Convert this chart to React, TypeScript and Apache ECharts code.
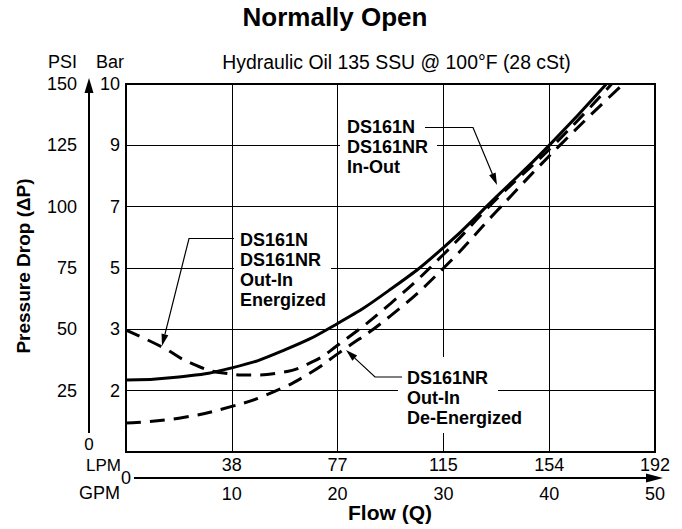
import React, { useEffect, useRef } from "react";
import * as echarts from "echarts";

// ---- Axis ticks & labels ----
const gpmTicks = [0, 10, 20, 30, 40, 50];
const gpmLabels = ["", "10", "20", "30", "40", "50"];
const lpmLabels = ["", "38", "77", "115", "154", "192"];
const psiTicks = [0, 25, 50, 75, 100, 125, 150];
const psiLabels = ["", "25", "50", "75", "100", "125", "150"];
const barLabels = ["", "2", "3", "5", "7", "9", "10"];

// ---- Series: In-Out (solid) ----
const inOutFlow = [0, 5, 10, 15, 20, 25, 30, 35, 40, 45.4];
const inOutPsi = [29.3, 30.6, 34.3, 41.6, 52.4, 66.3, 83.3, 104, 125, 150];

// ---- Series: Out-In Energized (dashed) ----
const energizedFlow = [0, 3.4, 6.1, 9.2, 11.9, 14.5, 17.5, 20, 25, 30, 35, 40.4, 45.9];
const energizedPsi = [49.7, 42.8, 36.3, 32.2, 31.4, 32.3, 36.5, 43.5, 60.5, 80.5, 103, 125, 150];

// ---- Series: Out-In De-Energized (dashed) ----
const deEnergizedFlow = [0, 5, 10, 14, 17.4, 20, 25, 30, 35, 41, 47];
const deEnergizedPsi = [11.8, 13.8, 18.6, 24.6, 32.2, 40, 55.5, 74.9, 98, 125, 150];

const FONT = '"Liberation Sans", Arial, Helvetica, sans-serif';

const zip = (xs: number[], ys: number[]) => xs.map((x, i) => [x, ys[i]]);
const pick = (ticks: number[], labels: string[]) => (v: number) => {
  const i = ticks.indexOf(Math.round(v * 1000) / 1000);
  return i >= 0 ? labels[i] : "";
};

function text(x: number, y: number, t: string, o: any = {}) {
  const align = o.align || "center";
  const valign = o.valign || "middle";
  return {
    type: "text",
    x,
    y,
    rotation: o.rotation || 0,
    z: 10,
    silent: true,
    style: {
      text: t,
      fill: "#000",
      font: `${o.bold ? "bold " : ""}${o.size || 18}px ${FONT}`,
      align,
      verticalAlign: valign,
      textAlign: align,
      textVerticalAlign: valign,
      lineHeight: o.lineHeight,
    },
  };
}

function arrowHead(tip: number[], from: number[], len: number, half: number) {
  const dx = tip[0] - from[0];
  const dy = tip[1] - from[1];
  const d = Math.sqrt(dx * dx + dy * dy) || 1;
  const ux = dx / d, uy = dy / d;
  const bx = tip[0] - ux * len, by = tip[1] - uy * len;
  const nx = -uy, ny = ux;
  return {
    base: [bx, by],
    el: {
      type: "polygon",
      z: 10,
      silent: true,
      shape: { points: [tip, [bx + nx * half, by + ny * half], [bx - nx * half, by - ny * half]] },
      style: { fill: "#000" },
    },
  };
}

function leader(points: number[][], len = 12, half = 3.5) {
  const tip = points[points.length - 1];
  const prev = points[points.length - 2];
  const a = arrowHead(tip, prev, len, half);
  const pts = points.slice(0, -1).concat([a.base]);
  return [
    { type: "polyline", z: 10, silent: true, shape: { points: pts }, style: { stroke: "#000", lineWidth: 1.2, fill: null } },
    a.el,
  ];
}

function box(x: number, y: number, w: number, h: number) {
  return { type: "rect", z: 1, silent: true, shape: { x, y, width: w, height: h }, style: { fill: "#fff" } };
}

export default function App() {
  const ref = useRef<HTMLDivElement>(null);

  useEffect(() => {
    if (!ref.current) return;
    const chart = echarts.init(ref.current, undefined, { renderer: "svg" });

    const vArrow = arrowHead([89, 78], [89, 433], 15, 4.5);
    const hArrow = arrowHead([663, 478], [134, 478], 17, 4.5);

    const graphic: any[] = [
      // white label backgrounds
      box(234, 228, 97, 84),
      box(340, 116, 97, 62),
      box(398, 357, 100, 76),
      // titles
      text(335, 17, "Normally Open", { bold: true, size: 26 }),
      text(396.5, 62, "Hydraulic Oil 135 SSU @ 100°F (28 cSt)", { size: 19.4 }),
      text(23, 266, "Pressure Drop (ΔP)", { bold: true, size: 19, rotation: Math.PI / 2 }),
      text(390, 512, "Flow (Q)", { bold: true, size: 21 }),
      // axis unit labels
      text(62.5, 62, "PSI"),
      text(110, 62, "Bar"),
      text(89, 444, "0", { size: 17 }),
      text(121, 465, "LPM", { align: "right", size: 17 }),
      text(126, 478, "0"),
      text(120, 493, "GPM", { align: "right" }),
      // axis arrows
      { type: "line", z: 10, silent: true, shape: { x1: 89, y1: 433, x2: vArrow.base[0], y2: vArrow.base[1] }, style: { stroke: "#000", lineWidth: 2 } },
      vArrow.el,
      { type: "line", z: 10, silent: true, shape: { x1: 134, y1: 478, x2: hArrow.base[0], y2: hArrow.base[1] }, style: { stroke: "#000", lineWidth: 2 } },
      hArrow.el,
      // curve labels
      text(240, 230, "DS161N\nDS161NR\nOut-In\nEnergized", { bold: true, align: "left", valign: "top", lineHeight: 20 }),
      text(347, 117, "DS161N\nDS161NR\nIn-Out", { bold: true, align: "left", valign: "top", lineHeight: 20 }),
      text(407, 368, "DS161NR\nOut-In\nDe-Energized", { bold: true, align: "left", valign: "top", lineHeight: 20 }),
      ...leader([[234, 238.5], [189, 238.5], [162, 346]]),
      ...leader([[425, 127.5], [473, 127.5], [497, 185]]),
      ...leader([[402, 377], [375, 377], [346, 350]]),
    ];

    const lineBase = { type: "line", showSymbol: false, symbol: "none", smooth: 0.5, z: 2 };

    chart.setOption({
      animation: false,
      backgroundColor: "#fff",
      textStyle: { fontFamily: FONT },
      grid: { left: 126, top: 84, width: 529, height: 368, show: true, borderColor: "#000", borderWidth: 2, backgroundColor: "transparent" },
      xAxis: [
        {
          type: "value", min: 0, max: 50, interval: 10, position: "bottom",
          axisLine: { show: false }, axisTick: { show: false },
          splitLine: { show: true, lineStyle: { color: "#000", width: 1 } },
          axisLabel: { margin: 33, color: "#000", fontSize: 18, fontFamily: FONT, formatter: pick(gpmTicks, gpmLabels) },
        },
        {
          type: "value", min: 0, max: 50, interval: 10, position: "bottom",
          axisLine: { show: false }, axisTick: { show: false }, splitLine: { show: false },
          axisLabel: { margin: 4, color: "#000", fontSize: 18, fontFamily: FONT, formatter: pick(gpmTicks, lpmLabels) },
        },
      ],
      yAxis: [
        {
          type: "value", min: 0, max: 150, interval: 25, position: "left",
          axisLine: { show: false }, axisTick: { show: false },
          splitLine: { show: true, lineStyle: { color: "#000", width: 1 } },
          axisLabel: { margin: 49, color: "#000", fontSize: 18, fontFamily: FONT, formatter: pick(psiTicks, psiLabels) },
        },
        {
          type: "value", min: 0, max: 150, interval: 25, position: "left",
          axisLine: { show: false }, axisTick: { show: false }, splitLine: { show: false },
          axisLabel: { margin: 6, color: "#000", fontSize: 18, fontFamily: FONT, formatter: pick(psiTicks, barLabels) },
        },
      ],
      series: [
        { ...lineBase, name: "In-Out", data: zip(inOutFlow, inOutPsi), lineStyle: { color: "#000", width: 3, type: "solid" } },
        { ...lineBase, name: "Out-In Energized", data: zip(energizedFlow, energizedPsi), lineStyle: { color: "#000", width: 3, type: [15, 9] } },
        { ...lineBase, name: "Out-In De-Energized", data: zip(deEnergizedFlow, deEnergizedPsi), lineStyle: { color: "#000", width: 3, type: [15, 9] } },
      ],
      graphic,
    });

    return () => chart.dispose();
  }, []);

  return <div ref={ref} style={{ position: "fixed", left: 0, top: 0, width: 682, height: 529, background: "#fff" }} />;
}
